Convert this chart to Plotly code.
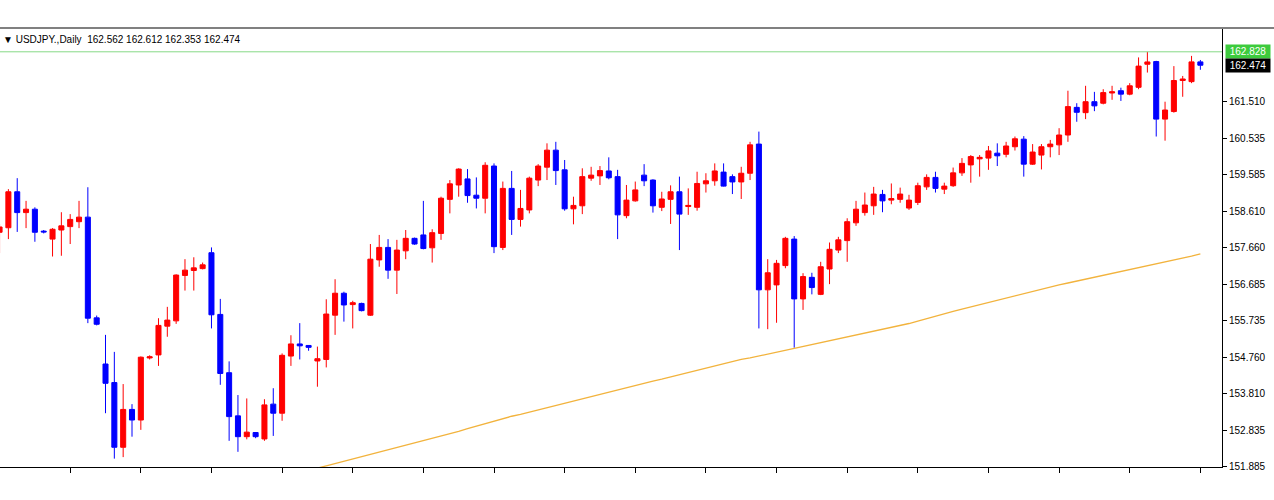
import plotly.graph_objects as go

# ---------------- data ----------------
bar_index = list(range(137))

opens = [158.06, 158.18, 159.13, 158.58, 158.67, 158.09, 157.88, 158.12, 158.21, 158.34,
         158.46, 155.80, 154.58, 154.09, 152.38, 153.38, 153.10, 154.74, 154.82, 155.58,
         155.72, 156.92, 157.05, 157.10, 157.52, 155.89, 154.35, 153.21, 152.66, 152.77,
         152.60, 153.52, 153.28, 154.79, 155.11, 155.07, 154.66, 154.70, 155.87, 156.45,
         156.15, 156.18, 155.87, 157.33, 157.66, 157.06, 157.57, 157.90, 157.99, 157.65,
         158.03, 158.93, 159.31, 159.47, 159.04, 158.96, 159.81, 157.66, 159.22, 158.40,
         158.65, 159.44, 159.78, 160.23, 159.71, 158.68, 158.76, 159.49, 159.55, 159.68,
         159.53, 158.50, 158.89, 159.57, 159.44, 158.72, 158.93, 159.13, 158.74, 158.72,
         159.34, 159.42, 159.65, 159.53, 159.39, 159.62, 160.39, 156.54, 156.67, 157.18,
         157.88, 156.30, 156.87, 156.42, 157.09, 157.59, 157.84, 158.31, 158.58, 158.76,
         159.06, 158.91, 158.93, 158.70, 158.85, 159.26, 159.51, 159.20, 159.29, 159.63,
         159.84, 160.00, 160.02, 160.15, 160.12, 160.32, 160.52, 159.86, 160.10, 160.32,
         160.37, 160.63, 161.36, 161.22, 161.51, 161.47, 161.74, 161.80, 161.71, 161.89,
         162.50, 162.57, 161.05, 161.25, 162.07, 162.04, 162.562]

highs = [158.28, 159.20, 159.49, 158.89, 158.72, 158.12, 158.17, 158.59, 158.54, 158.89,
         159.25, 155.86, 155.35, 154.90, 154.05, 153.52, 154.78, 154.81, 155.79, 156.09,
         156.95, 157.35, 157.40, 157.26, 157.66, 156.30, 154.65, 153.76, 153.67, 152.78,
         153.65, 153.94, 154.86, 155.34, 155.66, 155.08, 155.04, 156.29, 156.82, 156.49,
         156.25, 156.20, 157.75, 157.99, 157.88, 157.86, 158.12, 157.92, 158.89, 158.14,
         159.00, 159.44, 159.75, 159.73, 159.51, 159.91, 159.88, 159.40, 159.68, 159.18,
         159.53, 159.86, 160.41, 160.45, 159.97, 159.00, 159.75, 159.79, 159.81, 160.04,
         159.71, 159.31, 159.40, 159.86, 159.46, 159.13, 159.30, 159.53, 159.22, 159.66,
         159.62, 159.88, 159.88, 159.59, 159.79, 160.45, 160.72, 157.35, 157.33, 157.94,
         157.96, 156.98, 156.99, 157.28, 157.79, 157.94, 158.43, 158.89, 159.11, 159.26,
         159.18, 159.35, 159.24, 159.05, 159.37, 159.59, 159.66, 159.37, 159.77, 160.02,
         160.10, 160.10, 160.34, 160.41, 160.45, 160.59, 160.60, 160.39, 160.39, 160.50,
         160.81, 161.80, 161.47, 161.93, 161.77, 161.84, 161.93, 161.88, 162.00, 162.68,
         162.828, 162.59, 161.51, 162.45, 162.19, 162.72, 162.612]

lows = [157.51, 157.88, 158.07, 158.17, 157.81, 158.03, 157.42, 157.44, 157.75, 158.17,
        155.66, 155.60, 153.28, 152.08, 152.12, 152.66, 152.84, 154.70, 154.53, 155.30,
        155.64, 156.52, 156.52, 157.08, 155.52, 154.03, 152.55, 152.26, 152.59, 152.62,
        152.55, 152.68, 153.08, 154.53, 154.70, 154.93, 153.98, 154.49, 155.35, 155.70,
        155.52, 155.97, 155.85, 157.15, 156.83, 156.43, 157.35, 157.73, 157.61, 157.26,
        157.86, 158.56, 159.00, 158.84, 158.69, 158.56, 157.51, 157.59, 157.99, 158.21,
        158.56, 159.28, 159.44, 159.31, 158.63, 158.27, 158.54, 159.42, 159.31, 159.46,
        157.88, 158.43, 158.87, 159.28, 158.58, 158.62, 158.28, 157.59, 158.52, 158.63,
        159.11, 159.29, 159.27, 159.07, 158.94, 159.44, 155.52, 155.50, 155.67, 157.11,
        155.01, 156.01, 156.42, 156.40, 156.69, 157.51, 157.28, 158.23, 158.50, 158.52,
        158.59, 158.80, 158.84, 158.65, 158.78, 159.18, 159.11, 159.07, 159.26, 159.55,
        159.37, 159.53, 159.71, 159.81, 160.04, 160.22, 159.53, 159.84, 159.72, 160.04,
        160.10, 160.45, 160.98, 161.05, 161.26, 161.44, 161.56, 161.53, 161.68, 161.84,
        162.28, 160.59, 160.48, 161.22, 161.64, 162.00, 162.353]

closes = [158.20, 159.13, 158.58, 158.67, 158.06, 158.07, 158.14, 158.23, 158.40, 158.46,
          155.79, 155.63, 154.07, 152.38, 153.38, 153.10, 154.76, 154.77, 155.60, 155.74,
          156.93, 157.06, 157.12, 157.20, 155.88, 154.33, 153.19, 152.66, 152.78, 152.66,
          153.50, 153.28, 154.81, 155.11, 155.06, 155.02, 154.72, 155.90, 156.45, 156.14,
          156.20, 155.99, 157.35, 157.66, 157.06, 157.59, 157.90, 157.75, 157.63, 158.05,
          158.96, 159.34, 159.73, 159.03, 158.96, 159.83, 157.68, 159.22, 158.40, 158.69,
          159.49, 159.81, 160.23, 159.69, 158.68, 158.77, 159.53, 159.57, 159.69, 159.50,
          158.52, 158.91, 159.18, 159.42, 158.76, 158.94, 159.13, 158.54, 158.77, 159.35,
          159.42, 159.68, 159.28, 159.39, 159.62, 160.37, 156.54, 156.99, 157.24, 157.90,
          156.30, 156.89, 156.60, 157.15, 157.61, 157.86, 158.34, 158.67, 158.78, 159.07,
          158.89, 158.95, 159.07, 158.91, 159.29, 159.51, 159.22, 159.28, 159.63, 159.88,
          160.06, 160.04, 160.21, 160.08, 160.34, 160.53, 159.86, 160.18, 160.32, 160.39,
          160.63, 161.38, 161.23, 161.51, 161.40, 161.75, 161.77, 161.71, 161.93, 162.45,
          162.56, 161.05, 161.29, 162.07, 162.11, 162.562, 162.474]

ma_index = list(range(35, 137))
ma_values = [151.80, 151.83, 151.89, 151.95, 152.01, 152.07, 152.13, 152.19, 152.25, 152.31,
             152.37, 152.43, 152.49, 152.55, 152.61, 152.67, 152.73, 152.80, 152.87, 152.94,
             153.01, 153.08, 153.14, 153.20, 153.25, 153.31, 153.37, 153.43, 153.48, 153.54,
             153.60, 153.66, 153.72, 153.78, 153.84, 153.90, 153.95, 154.01, 154.07, 154.13,
             154.18, 154.24, 154.30, 154.35, 154.41, 154.47, 154.53, 154.58, 154.64, 154.70,
             154.74, 154.79, 154.84, 154.90, 154.95, 155.00, 155.05, 155.10, 155.15, 155.20,
             155.25, 155.30, 155.35, 155.40, 155.45, 155.50, 155.55, 155.60, 155.65, 155.71,
             155.78, 155.85, 155.91, 155.97, 156.03, 156.09, 156.15, 156.21, 156.27, 156.33,
             156.39, 156.44, 156.50, 156.56, 156.62, 156.67, 156.72, 156.77, 156.82, 156.87,
             156.92, 156.97, 157.02, 157.07, 157.12, 157.17, 157.22, 157.27, 157.32, 157.37,
             157.43, 157.49]

y_tick_values = [151.885, 152.835, 153.810, 154.760, 155.735, 156.685,
                 157.660, 158.610, 159.585, 160.535, 161.510]
x_tick_bars = [0, 8, 16, 24, 32, 40, 48, 56, 64, 72, 80, 88, 96, 104, 112, 120, 128, 136]

high_line = 162.828
last_price = 162.474
title_text = "▼ USDJPY.,Daily\u00a0\u00a0162.562 162.612 162.353 162.474"

FONT = "Liberation Sans, Arial, DejaVu Sans, sans-serif"

# ---------------- figure ----------------
fig = go.Figure()

fig.add_trace(go.Candlestick(
    x=bar_index, open=opens, high=highs, low=lows, close=closes,
    increasing=dict(line=dict(color="#FF0000", width=1), fillcolor="#FF0000"),
    decreasing=dict(line=dict(color="#0000FF", width=1), fillcolor="#0000FF"),
    whiskerwidth=0, showlegend=False, hoverinfo="skip",
))

fig.add_trace(go.Scatter(
    x=ma_index, y=ma_values, mode="lines",
    line=dict(color="#F2B33D", width=1.3),
    showlegend=False, hoverinfo="skip",
))

fig.update_layout(
    width=1274, height=500,
    margin=dict(l=0, r=52, t=28, b=33),
    paper_bgcolor="white", plot_bgcolor="white",
    boxgap=0.43, boxgroupgap=0,
    showlegend=False,
    font=dict(family=FONT, size=10, color="black"),
    xaxis=dict(
        range=[0.05, 138.45], showgrid=False, zeroline=False,
        showline=True, linecolor="black", linewidth=1,
        ticks="outside", tickvals=x_tick_bars, ticklen=5, tickcolor="black",
        showticklabels=False, rangeslider=dict(visible=False), fixedrange=True,
    ),
    yaxis=dict(
        side="right", range=[151.859, 163.457], showgrid=False, zeroline=False,
        showline=True, linecolor="black", linewidth=1,
        ticks="outside", ticklen=4, tickcolor="black",
        tickvals=y_tick_values, tickformat=".3f",
        tickfont=dict(family=FONT, size=10, color="black"), fixedrange=True,
    ),
    shapes=[
        dict(type="line", xref="paper", yref="y", x0=0, x1=1, y0=high_line, y1=high_line,
             line=dict(color="#86D986", width=1)),
        dict(type="line", xref="paper", yref="paper", x0=0, x1=1.05, y0=1, y1=1,
             line=dict(color="#808080", width=2)),
    ],
    annotations=[
        dict(xref="paper", yref="paper", x=0, y=1, xanchor="left", yanchor="top",
             xshift=1, yshift=-4, text=title_text, showarrow=False,
             font=dict(family=FONT, size=10, color="black")),
        dict(xref="paper", yref="y", x=1, y=high_line, xanchor="left", yanchor="middle",
             xshift=3, text=f"{high_line:.3f}", showarrow=False, bgcolor="#3DCB3D",
             font=dict(family=FONT, size=10, color="white"), borderpad=1, width=42),
        dict(xref="paper", yref="y", x=1, y=last_price, xanchor="left", yanchor="middle",
             xshift=3, text=f"{last_price:.3f}", showarrow=False, bgcolor="black",
             font=dict(family=FONT, size=10, color="white"), borderpad=1, width=42),
    ],
)

fig.write_html("out.html")
